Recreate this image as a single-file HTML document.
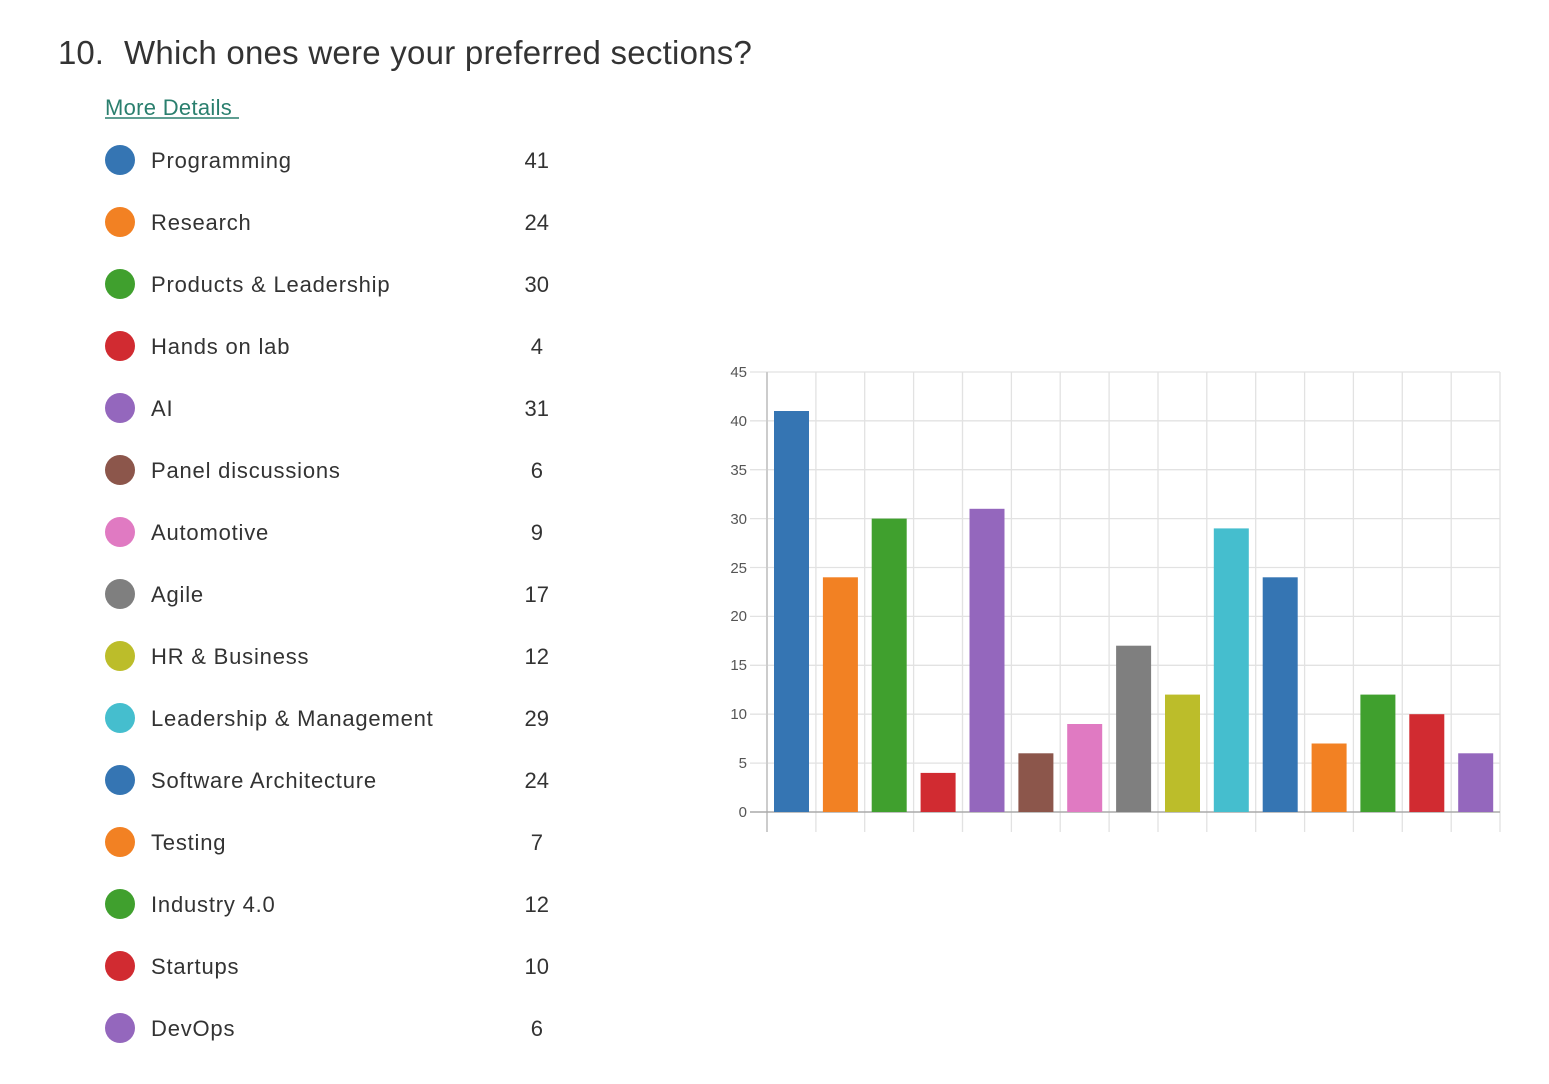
<!DOCTYPE html>
<html><head><meta charset="utf-8"><style>
html,body{margin:0;padding:0;background:#fff;width:1549px;height:1084px;overflow:hidden}
svg{display:block}
text{font-family:"Liberation Sans",sans-serif}
</style></head><body>
<svg width="1549" height="1084" viewBox="0 0 1549 1084">
<text x="58" y="64" font-size="33" fill="#333">10.</text>
<text x="124" y="64" font-size="33" fill="#333" letter-spacing="0.25">Which ones were your preferred sections?</text>
<text x="105" y="115" font-size="22" fill="#2a7f6e" letter-spacing="0.3">More Details</text>
<line x1="105" y1="118" x2="239" y2="118" stroke="#2a7f6e" stroke-width="1.5"/>
<g font-size="22" fill="#333" letter-spacing="0.8">
<circle cx="120" cy="160" r="15" fill="#3575b3"/><text x="151" y="168">Programming</text><text x="549" y="168" text-anchor="end" letter-spacing="0">41</text>
<circle cx="120" cy="222" r="15" fill="#f28123"/><text x="151" y="230">Research</text><text x="549" y="230" text-anchor="end" letter-spacing="0">24</text>
<circle cx="120" cy="284" r="15" fill="#40a02e"/><text x="151" y="292">Products &amp; Leadership</text><text x="549" y="292" text-anchor="end" letter-spacing="0">30</text>
<circle cx="120" cy="346" r="15" fill="#d12b31"/><text x="151" y="354">Hands on lab</text><text x="543" y="354" text-anchor="end" letter-spacing="0">4</text>
<circle cx="120" cy="408" r="15" fill="#9467bd"/><text x="151" y="416">AI</text><text x="549" y="416" text-anchor="end" letter-spacing="0">31</text>
<circle cx="120" cy="470" r="15" fill="#8c564b"/><text x="151" y="478">Panel discussions</text><text x="543" y="478" text-anchor="end" letter-spacing="0">6</text>
<circle cx="120" cy="532" r="15" fill="#e07ac2"/><text x="151" y="540">Automotive</text><text x="543" y="540" text-anchor="end" letter-spacing="0">9</text>
<circle cx="120" cy="594" r="15" fill="#7f7f7f"/><text x="151" y="602">Agile</text><text x="549" y="602" text-anchor="end" letter-spacing="0">17</text>
<circle cx="120" cy="656" r="15" fill="#bcbd2a"/><text x="151" y="664">HR &amp; Business</text><text x="549" y="664" text-anchor="end" letter-spacing="0">12</text>
<circle cx="120" cy="718" r="15" fill="#45bece"/><text x="151" y="726">Leadership &amp; Management</text><text x="549" y="726" text-anchor="end" letter-spacing="0">29</text>
<circle cx="120" cy="780" r="15" fill="#3575b3"/><text x="151" y="788">Software Architecture</text><text x="549" y="788" text-anchor="end" letter-spacing="0">24</text>
<circle cx="120" cy="842" r="15" fill="#f28123"/><text x="151" y="850">Testing</text><text x="543" y="850" text-anchor="end" letter-spacing="0">7</text>
<circle cx="120" cy="904" r="15" fill="#40a02e"/><text x="151" y="912">Industry 4.0</text><text x="549" y="912" text-anchor="end" letter-spacing="0">12</text>
<circle cx="120" cy="966" r="15" fill="#d12b31"/><text x="151" y="974">Startups</text><text x="549" y="974" text-anchor="end" letter-spacing="0">10</text>
<circle cx="120" cy="1028" r="15" fill="#9467bd"/><text x="151" y="1036">DevOps</text><text x="543" y="1036" text-anchor="end" letter-spacing="0">6</text>
</g>
<g stroke="#e2e2e2" stroke-width="1.3">
<line x1="750" y1="372" x2="1500" y2="372"/><line x1="750" y1="420.8" x2="1500" y2="420.8"/><line x1="750" y1="469.7" x2="1500" y2="469.7"/><line x1="750" y1="518.6" x2="1500" y2="518.6"/><line x1="750" y1="567.5" x2="1500" y2="567.5"/><line x1="750" y1="616.4" x2="1500" y2="616.4"/><line x1="750" y1="665.3" x2="1500" y2="665.3"/><line x1="750" y1="714.2" x2="1500" y2="714.2"/><line x1="750" y1="763.1" x2="1500" y2="763.1"/>
<line x1="815.9" y1="372" x2="815.9" y2="832"/><line x1="864.7" y1="372" x2="864.7" y2="832"/><line x1="913.6" y1="372" x2="913.6" y2="832"/><line x1="962.5" y1="372" x2="962.5" y2="832"/><line x1="1011.4" y1="372" x2="1011.4" y2="832"/><line x1="1060.2" y1="372" x2="1060.2" y2="832"/><line x1="1109.1" y1="372" x2="1109.1" y2="832"/><line x1="1158" y1="372" x2="1158" y2="832"/><line x1="1206.8" y1="372" x2="1206.8" y2="832"/><line x1="1255.7" y1="372" x2="1255.7" y2="832"/><line x1="1304.6" y1="372" x2="1304.6" y2="832"/><line x1="1353.4" y1="372" x2="1353.4" y2="832"/><line x1="1402.3" y1="372" x2="1402.3" y2="832"/><line x1="1451.2" y1="372" x2="1451.2" y2="832"/><line x1="1500" y1="372" x2="1500" y2="832"/>
</g>
<line x1="767" y1="372" x2="767" y2="832" stroke="#ccc" stroke-width="2"/>
<line x1="750" y1="812" x2="1500" y2="812" stroke="#aaa" stroke-width="1.5"/>
<g font-size="15" fill="#555" text-anchor="end">
<text x="747" y="377">45</text><text x="747" y="426">40</text><text x="747" y="475">35</text><text x="747" y="524">30</text><text x="747" y="573">25</text><text x="747" y="621">20</text><text x="747" y="670">15</text><text x="747" y="719">10</text><text x="747" y="768">5</text><text x="747" y="817">0</text>
</g>
<rect x="774" y="411" width="35" height="401" fill="#3575b3"/>
<rect x="822.9" y="577.3" width="35" height="234.7" fill="#f28123"/>
<rect x="871.7" y="518.6" width="35" height="293.4" fill="#40a02e"/>
<rect x="920.6" y="772.9" width="35" height="39.1" fill="#d12b31"/>
<rect x="969.5" y="508.8" width="35" height="303.2" fill="#9467bd"/>
<rect x="1018.4" y="753.3" width="35" height="58.7" fill="#8c564b"/>
<rect x="1067.2" y="724" width="35" height="88" fill="#e07ac2"/>
<rect x="1116.1" y="645.7" width="35" height="166.3" fill="#7f7f7f"/>
<rect x="1165" y="694.6" width="35" height="117.4" fill="#bcbd2a"/>
<rect x="1213.8" y="528.4" width="35" height="283.6" fill="#45bece"/>
<rect x="1262.7" y="577.3" width="35" height="234.7" fill="#3575b3"/>
<rect x="1311.6" y="743.5" width="35" height="68.5" fill="#f28123"/>
<rect x="1360.4" y="694.6" width="35" height="117.4" fill="#40a02e"/>
<rect x="1409.3" y="714.2" width="35" height="97.8" fill="#d12b31"/>
<rect x="1458.2" y="753.3" width="35" height="58.7" fill="#9467bd"/>
</svg>
</body></html>
